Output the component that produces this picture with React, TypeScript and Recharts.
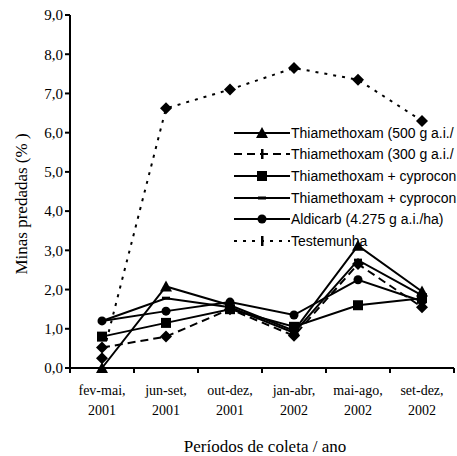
import React from 'react';
import { LineChart, Line, XAxis, YAxis } from 'recharts';

const periods = ['fev-mai,|2001', 'jun-set,|2001', 'out-dez,|2001', 'jan-abr,|2002', 'mai-ago,|2002', 'set-dez,|2002'];

const thia500 = [0.0, 2.08, 1.6, 0.95, 3.12, 1.95];
const thia300 = [0.52, 0.8, 1.5, 0.82, 2.65, 1.55];
const thiaCyp1 = [0.8, 1.15, 1.5, 1.05, 1.6, 1.78];
const thiaCyp2 = [1.2, 1.78, 1.55, 0.9, 2.75, 1.85];
const aldicarb = [1.2, 1.45, 1.68, 1.35, 2.25, 1.7];
const testemunha = [0.25, 6.62, 7.1, 7.65, 7.35, 6.3];

const yTicks = [0, 1, 2, 3, 4, 5, 6, 7, 8, 9];

// legend labels are cut at the chart's right edge in the original
const series = [
  { key: 't500', name: 'Thiamethoxam (500 g a.i./', values: thia500, dash: undefined, marker: 'triangle' },
  { key: 't300', name: 'Thiamethoxam (300 g a.i./', values: thia300, dash: '8 5', marker: 'diamond' },
  { key: 'tc1', name: 'Thiamethoxam + cyprocon', values: thiaCyp1, dash: undefined, marker: 'square' },
  { key: 'tc2', name: 'Thiamethoxam + cyprocon', values: thiaCyp2, dash: undefined, marker: 'dash' },
  { key: 'ald', name: 'Aldicarb (4.275 g a.i./ha)', values: aldicarb, dash: undefined, marker: 'circle' },
  { key: 'test', name: 'Testemunha', values: testemunha, dash: '3 6', marker: 'diamond' },
];

const legendMarkers = ['triangle', 'bar', 'square', 'dash', 'circle', 'bar'];

const data = periods.map((p, i) => {
  const row: Record<string, any> = { period: p };
  series.forEach((s) => (row[s.key] = s.values[i]));
  return row;
});

const SERIF = '"Liberation Serif", "Times New Roman", serif';
const SANS = '"Liberation Sans", Arial, sans-serif';

function Marker({ type, cx, cy }: { type: string; cx: number; cy: number }) {
  if (type === 'triangle') {
    return <polygon points={`${cx},${cy - 6} ${cx - 6},${cy + 5} ${cx + 6},${cy + 5}`} fill="#000" />;
  }
  if (type === 'square') {
    return <rect x={cx - 5} y={cy - 5} width={10} height={10} fill="#000" />;
  }
  if (type === 'circle') {
    return <circle cx={cx} cy={cy} r={4.5} fill="#000" />;
  }
  if (type === 'diamond') {
    return <polygon points={`${cx},${cy - 6} ${cx + 6},${cy} ${cx},${cy + 6} ${cx - 6},${cy}`} fill="#000" />;
  }
  if (type === 'dash') {
    return <rect x={cx - 4} y={cy - 1.5} width={8} height={3} fill="#000" />;
  }
  if (type === 'bar') {
    return <rect x={cx - 1} y={cy - 5} width={2.5} height={10} fill="#000" />;
  }
  return null;
}

const makeDot = (type: string) => (props: any) => {
  const { cx, cy, index } = props;
  return (
    <g key={`dot-${type}-${index}`}>
      <Marker type={type} cx={cx} cy={cy} />
    </g>
  );
};

const XTick = (props: any) => {
  const { x, y, payload, index } = props;
  const [l1, l2] = String(payload.value).split('|');
  const half = 32;
  return (
    <g>
      <line x1={x - half} y1={y - 8} x2={x - half} y2={y - 3} stroke="#000" strokeWidth={2} />
      {index === periods.length - 1 && (
        <line x1={x + half} y1={y - 8} x2={x + half} y2={y - 3} stroke="#000" strokeWidth={2} />
      )}
      <text x={x} y={y + 19} textAnchor="middle" fontFamily={SERIF} fontSize={14} fill="#000">
        {l1}
      </text>
      <text x={x} y={y + 39} textAnchor="middle" fontFamily={SERIF} fontSize={14} fill="#000">
        {l2}
      </text>
    </g>
  );
};

function ChartLegend() {
  return (
    <div style={{ position: 'absolute', left: 234, top: 122, fontFamily: SANS, fontSize: 14, color: '#000' }}>
      {series.map((s, i) => (
        <div key={s.key} style={{ display: 'flex', alignItems: 'center', height: 21.6, whiteSpace: 'nowrap' }}>
          <svg width={56} height={14} style={{ display: 'block' }}>
            <line x1={0} y1={7} x2={56} y2={7} stroke="#000" strokeWidth={2} strokeDasharray={s.dash} />
            <Marker type={legendMarkers[i]} cx={28} cy={7} />
          </svg>
          <span style={{ marginLeft: 1 }}>{s.name}</span>
        </div>
      ))}
    </div>
  );
}

export default function App() {
  return (
    <div style={{ position: 'absolute', left: 0, top: 0, width: 457, height: 456, overflow: 'hidden', background: '#fff' }}>
      <ChartLegend />
      <div style={{ position: 'absolute', left: 0, top: 0 }}>
        <LineChart width={457} height={456} data={data} margin={{ top: 15, right: 3, bottom: 0, left: 0 }}>
          <XAxis
            dataKey="period"
            scale="band"
            interval={0}
            height={88}
            tickLine={false}
            tick={<XTick />}
            axisLine={{ stroke: '#000', strokeWidth: 2 }}
          />
          <YAxis
            width={70}
            domain={[0, 9]}
            ticks={yTicks}
            interval={0}
            tickFormatter={(v: number) => v.toFixed(1).replace('.', ',')}
            tickSize={5}
            tickLine={{ stroke: '#000', strokeWidth: 2 }}
            axisLine={{ stroke: '#000', strokeWidth: 2 }}
            tick={{ fontFamily: SERIF, fontSize: 15, fill: '#000' }}
          />
          {series.map((s) => (
            <Line
              key={s.key}
              dataKey={s.key}
              name={s.name}
              type="linear"
              stroke="#000"
              strokeWidth={2}
              strokeDasharray={s.dash}
              dot={makeDot(s.marker)}
              activeDot={false}
              isAnimationActive={false}
            />
          ))}
          <text x={27} y={204} transform="rotate(-90 27 204)" textAnchor="middle" fontFamily={SERIF} fontSize={17} fill="#000">
            Minas predadas (% )
          </text>
          <text x={265} y={452} textAnchor="middle" fontFamily={SERIF} fontSize={17} fill="#000">
            Períodos de coleta / ano
          </text>
        </LineChart>
      </div>
    </div>
  );
}
